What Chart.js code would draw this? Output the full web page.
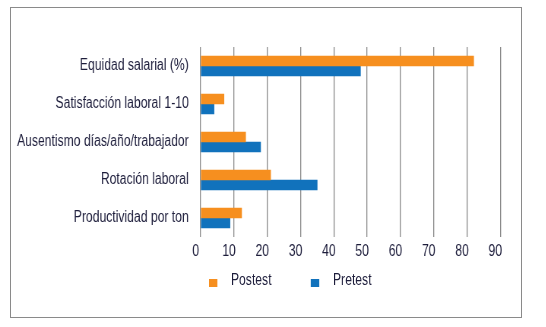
<!DOCTYPE html>
<html>
<head>
<meta charset="utf-8">
<script src="https://cdn.jsdelivr.net/npm/chart.js@4/dist/chart.umd.min.js"></script>
<style>
  html, body { margin: 0; padding: 0; background: #fff; }
  #page { position: relative; width: 546px; height: 327px; overflow: hidden; }
  #frame { position: absolute; left: 10px; top: 7px; width: 510px; height: 309px; border: 1px solid #8a8a8a; }
  #wrap { position: absolute; left: 0; top: 0; height: 327px; transform-origin: 0 0; }
  #legend { position: absolute; left: 0; top: 0; font-family: "Liberation Sans", sans-serif; font-size: 16px; color: #1d1d3b; }
  .item { position: absolute; top: 271px; height: 18px; line-height: 18px; white-space: nowrap; }
  .box { position: absolute; top: 8px; height: 8px; }
  .txt { position: absolute; top: 0; }
</style>
</head>
<body>
<div id="page">
  <div id="frame"></div>
  <div id="wrap">
    <canvas id="chart"></canvas>
    <div id="legend"></div>
  </div>
</div>
<script>
const categories = [
    'Equidad salarial (%)',
    'Satisfacción laboral 1-10',
    'Ausentismo días/año/trabajador',
    'Rotación laboral',
    'Productividad por ton'
];
const postest = [82, 7, 13.5, 21, 12.3];
const pretest = [48, 4, 18, 35, 8.8];
const xTicks = [0, 10, 20, 30, 40, 50, 60, 70, 80, 90];

const textColor = '#1d1d3b';
const fontFamily = '"Liberation Sans", sans-serif';

// the figure uses a condensed face; draw wide and squeeze horizontally
const squeeze = 0.76;
const W = Math.round(546 / squeeze);
const H = 327;

const wrap = document.getElementById('wrap');
wrap.style.width = W + 'px';
wrap.style.transform = 'scaleX(' + squeeze + ')';

const canvas = document.getElementById('chart');
canvas.width = W;
canvas.height = H;

const plotLeft = 200.7 / squeeze;
const plotRight = 500.3 / squeeze;

const chart = new Chart(canvas, {
    type: 'bar',
    data: {
        labels: categories,
        datasets: [{
            label: 'Postest',
            data: postest,
            backgroundColor: '#f68f1f',
            barThickness: 10
        }, {
            label: 'Pretest',
            data: pretest,
            backgroundColor: '#1172bc',
            barThickness: 10
        }]
    },
    options: {
        indexAxis: 'y',
        responsive: false,
        animation: false,
        layout: {
            padding: { left: 0, top: 47, right: W - plotRight, bottom: 65 }
        },
        plugins: {
            legend: { display: false },
            tooltip: { enabled: false }
        },
        scales: {
            x: {
                min: 0,
                max: 90,
                afterBuildTicks: function(scale){
                    scale.ticks = xTicks.map(v => ({ value: v }));
                },
                afterFit: function(scale){
                    scale.height = 25;
                },
                grid: {
                    color: '#8a8a8a',
                    lineWidth: 1 / squeeze,
                    drawTicks: false
                },
                border: { display: false },
                ticks: {
                    color: textColor,
                    padding: 5,
                    labelOffset: -5 / squeeze,
                    font: { family: fontFamily, size: 16 }
                }
            },
            y: {
                afterFit: function(scale){
                    scale.width = plotLeft;
                },
                grid: { display: false, drawTicks: false },
                border: { display: false },
                ticks: {
                    color: textColor,
                    padding: 12 / squeeze,
                    font: { family: fontFamily, size: 16 }
                }
            }
        }
    }
});

// legend built from the datasets
const legendPos = [209, 311];
const legend = document.getElementById('legend');
chart.data.datasets.forEach(function(ds, i){
    const item = document.createElement('div');
    item.className = 'item';
    item.style.left = (legendPos[i] / squeeze) + 'px';
    item.innerHTML = '<span class="box" style="left:0;width:' + (8 / squeeze) + 'px;background:' + ds.backgroundColor + '"></span>' +
        '<span class="txt" style="left:' + (22 / squeeze) + 'px">' + ds.label + '</span>';
    legend.appendChild(item);
});
</script>
</body>
</html>
